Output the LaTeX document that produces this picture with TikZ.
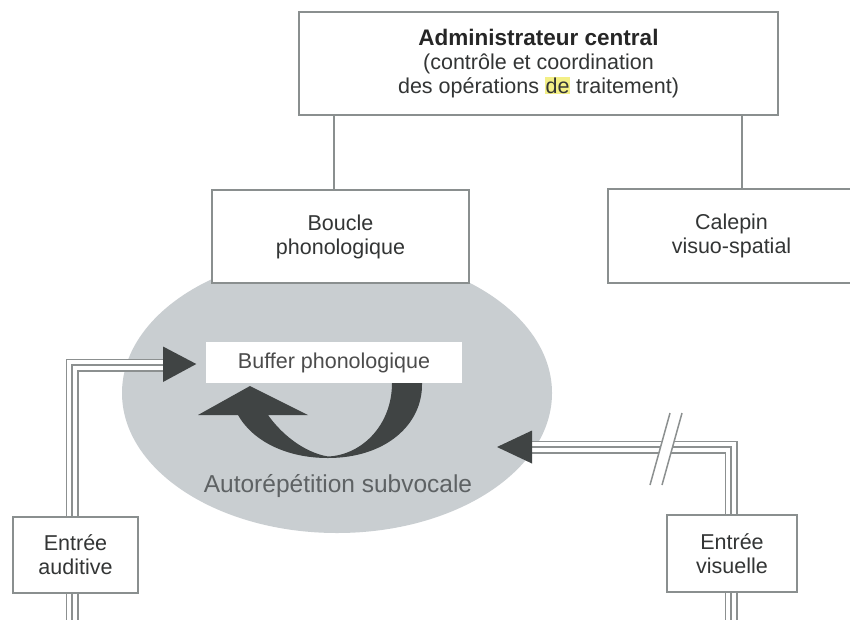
\documentclass[tikz,border=0pt]{standalone}
\usepackage{fontspec}
\setmainfont{Liberation Sans}
\usetikzlibrary{calc}
\definecolor{boxline}{HTML}{8A8F8F}
\definecolor{txt}{HTML}{333535}
\definecolor{ellfill}{HTML}{C9CED1}
\definecolor{arrowc}{HTML}{404444}
\definecolor{tline}{HTML}{8C9090}
\definecolor{hly}{HTML}{F3EF86}
\definecolor{autotxt}{HTML}{5E6264}
\newcommand\hlword[1]{{\setlength\fboxsep{0.6pt}\colorbox{hly}{#1}}}
\newcommand\tripath[1]{%
  \draw[line width=13pt, tline] #1;
  \draw[line width=9.4pt, white] #1;
  \draw[line width=1.6pt, tline] #1;}
\begin{document}
\begin{tikzpicture}[x=1pt,y=-1pt,
  box/.style={draw=boxline, line width=1.4pt, fill=white, inner sep=0pt, align=center,
    text=txt, font=\fontsize{21.5}{24}\selectfont},
  arrowfill/.style={fill=arrowc}
]
\useasboundingbox (0,0) rectangle (850,619);
\fill[white] (0,0) rectangle (850,619);

% ellipse (phonological loop area)
\fill[ellfill] (337,393) ellipse [x radius=215, y radius=140];

% boxes
\node[box, minimum width=479pt, minimum height=103pt] (adm) at (538.5,63.5)
  {{\fontsize{22.5}{24}\selectfont\bfseries\color{black!85}Administrateur central}\\(contrôle et coordination\\des opérations \hlword{de} traitement)};
\node[box, minimum width=257pt, minimum height=93pt] (bp) at (340.5,236.5) {Boucle\\phonologique};
\node[box, minimum width=247pt, minimum height=94pt] (cv) at (731.5,236) {Calepin\\visuo-spatial};
\node[box, draw=none, minimum width=256pt, minimum height=41pt, text=black!70] (buf) at (334,362.5) {Buffer phonologique};
\node[box, minimum width=125pt, minimum height=76pt] (ea) at (75.5,555) {Entrée\\auditive};
\node[box, minimum width=130pt, minimum height=77pt] (ev) at (732,553.5) {Entrée\\visuelle};
\node[text=autotxt, font=\fontsize{24.5}{26}\selectfont, inner sep=0pt, anchor=base] (auto) at (338,492) {Autorépétition subvocale};

% links from central executive
\coordinate (xl) at (334,0);
\coordinate (xr) at (742,0);
\draw[boxline, line width=1.4pt] (adm.south -| xl) -- (bp.north -| xl);
\draw[boxline, line width=1.4pt] (adm.south -| xr) -- (cv.north -| xr);

% auditory input connector
\coordinate (lx) at (72,0);
\coordinate (lbase) at (164,365);
\coordinate (lbot) at (72,630);
\tripath{(ea.north -| lx) |- (lbase)}
\tripath{(ea.south -| lx) -- (lbot)}
\fill[arrowc] ($(buf.west)+(-9,1.5)$) -- (163,346.5) -- (163,382) -- cycle;

% visual input connector
\coordinate (rx) at (731,0);
\coordinate (rbase) at (531,447);
\coordinate (rbot) at (731,630);
\tripath{(ev.north -| rx) |- (rbase)}
\tripath{(ev.south -| rx) -- (rbot)}
\fill[arrowc] (497,447) -- (532,430.5) -- (532,463.5) -- cycle;
% break marks
\fill[white] (662.5,438) -- (674.5,438) -- (670.3,456) -- (658.3,456) -- cycle;
\draw[tline, line width=1.5pt] (650,485) -- (670,413);
\draw[tline, line width=1.5pt] (662,485) -- (682,413);

% subvocal rehearsal arrow
\fill[arrowc] (422,383) .. controls (423,425) and (385,458) .. (328,458)
  .. controls (285,458) and (252,440) .. (238,415)
  -- (198,415) -- (250,386) -- (308,415) -- (268,415)
  .. controls (280,432) and (302,452) .. (328,456.5)
  .. controls (362,455) and (392,425) .. (392,383) -- cycle;
\end{tikzpicture}
\end{document}
